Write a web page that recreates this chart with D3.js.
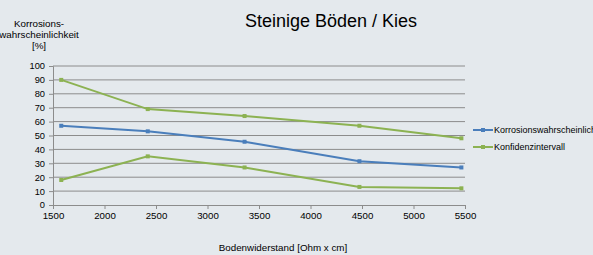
<!DOCTYPE html>
<html>
<head>
<meta charset="utf-8">
<script src="https://cdn.jsdelivr.net/npm/d3@7"></script>
<style>
  body { margin: 0; background: #e4e9ed; }
  svg { display: block; font-family: "Liberation Sans", Arial, sans-serif; }
</style>
</head>
<body>
<script>
// data
const resistance = [1580, 2420, 3360, 4475, 5465];
const probability = [57, 53, 45.5, 31.5, 27];
const upperBound = [90, 69, 64, 57, 48];
const lowerBound = [18, 35, 27, 13, 12];
const xTicks = [1500, 2000, 2500, 3000, 3500, 4000, 4500, 5000, 5500];
const yTicks = [0, 10, 20, 30, 40, 50, 60, 70, 80, 90, 100];
const seriesNames = ['Korrosionswahrscheinlichkeit', 'Konfidenzintervall'];

const width = 593, height = 255;
const margin = {top: 66, right: 128, bottom: 50, left: 53};
const blue = '#4a7ebb', green = '#8cb252';

const svg = d3.select('body')
  .append('svg')
  .attr('width', width)
  .attr('height', height);

const xScale = d3.scaleLinear()
  .domain([1500, 5500])
  .range([margin.left, width - margin.right]);

const yScale = d3.scaleLinear()
  .domain([0, 100])
  .range([height - margin.bottom, margin.top]);

// horizontal gridlines
svg.append('g')
  .selectAll('line')
  .data(yTicks.filter(d => d > 0))
  .enter()
    .append('line')
    .attr('x1', xScale(1500))
    .attr('x2', xScale(5500))
    .attr('y1', d => yScale(d))
    .attr('y2', d => yScale(d))
    .attr('stroke', '#8c8c8c')
    .attr('stroke-width', 1);

const xAxis = d3.axisBottom(xScale).tickValues(xTicks).tickSize(4).tickPadding(3).tickFormat(d3.format('d'));
const yAxis = d3.axisLeft(yScale).tickValues(yTicks).tickSize(4).tickPadding(4);

svg.append('g') // x-axis
  .attr('transform', `translate(0, ${yScale(0)})`)
  .call(xAxis)
  .call(g => g.select('.domain').attr('stroke', '#8c8c8c'))
  .call(g => g.selectAll('.tick line').attr('stroke', '#8c8c8c'))
  .call(g => g.selectAll('text').attr('fill', '#000').style('font-size', '9.7px'));

svg.append('g') // y-axis
  .attr('transform', `translate(${xScale(1500)}, 0)`)
  .call(yAxis)
  .call(g => g.select('.domain').attr('stroke', '#8c8c8c'))
  .call(g => g.selectAll('.tick line').attr('stroke', '#8c8c8c'))
  .call(g => g.selectAll('text').attr('fill', '#000').style('font-size', '9.3px'));

const line = d3.line()
  .x((d, i) => xScale(resistance[i]))
  .y(d => yScale(d));

const series = [
  {values: probability, color: blue},
  {values: upperBound, color: green},
  {values: lowerBound, color: green}
];

series.forEach(s => {
  svg.append('path')
    .datum(s.values)
    .attr('d', line)
    .attr('fill', 'none')
    .attr('stroke', s.color)
    .attr('stroke-width', 2);
  svg.append('g')
    .selectAll('rect')
    .data(s.values)
    .enter()
      .append('rect')
      .attr('x', (d, i) => xScale(resistance[i]) - 2)
      .attr('y', d => yScale(d) - 2)
      .attr('width', 4)
      .attr('height', 4)
      .attr('fill', s.color);
});

// title
svg.append('text')
  .attr('x', 331)
  .attr('y', 27)
  .attr('text-anchor', 'middle')
  .style('font-size', '18px')
  .text('Steinige Böden / Kies');

// y-axis label
const yLabel = svg.append('text')
  .attr('text-anchor', 'middle')
  .style('font-size', '9.8px');
['Korrosions-', 'wahrscheinlichkeit', '[%]'].forEach((t, i) => {
  yLabel.append('tspan')
    .attr('x', 39)
    .attr('y', 27 + i * 11)
    .text(t);
});

// x-axis label
svg.append('text')
  .attr('x', 283)
  .attr('y', 251)
  .attr('text-anchor', 'middle')
  .style('font-size', '9.8px')
  .text('Bodenwiderstand [Ohm x cm]');

// legend
const legend = svg.append('g')
  .attr('transform', 'translate(473, 130)');
[blue, green].forEach((c, i) => {
  const row = legend.append('g').attr('transform', `translate(0, ${i * 17})`);
  row.append('line')
    .attr('x1', 0).attr('x2', 20)
    .attr('stroke', c).attr('stroke-width', 2);
  row.append('rect')
    .attr('x', 8).attr('y', -2).attr('width', 4).attr('height', 4)
    .attr('fill', c);
  row.append('text')
    .attr('x', 21)
    .attr('dy', '0.35em')
    .style('font-size', '9px')
    .text(seriesNames[i]);
});
</script>
</body>
</html>
